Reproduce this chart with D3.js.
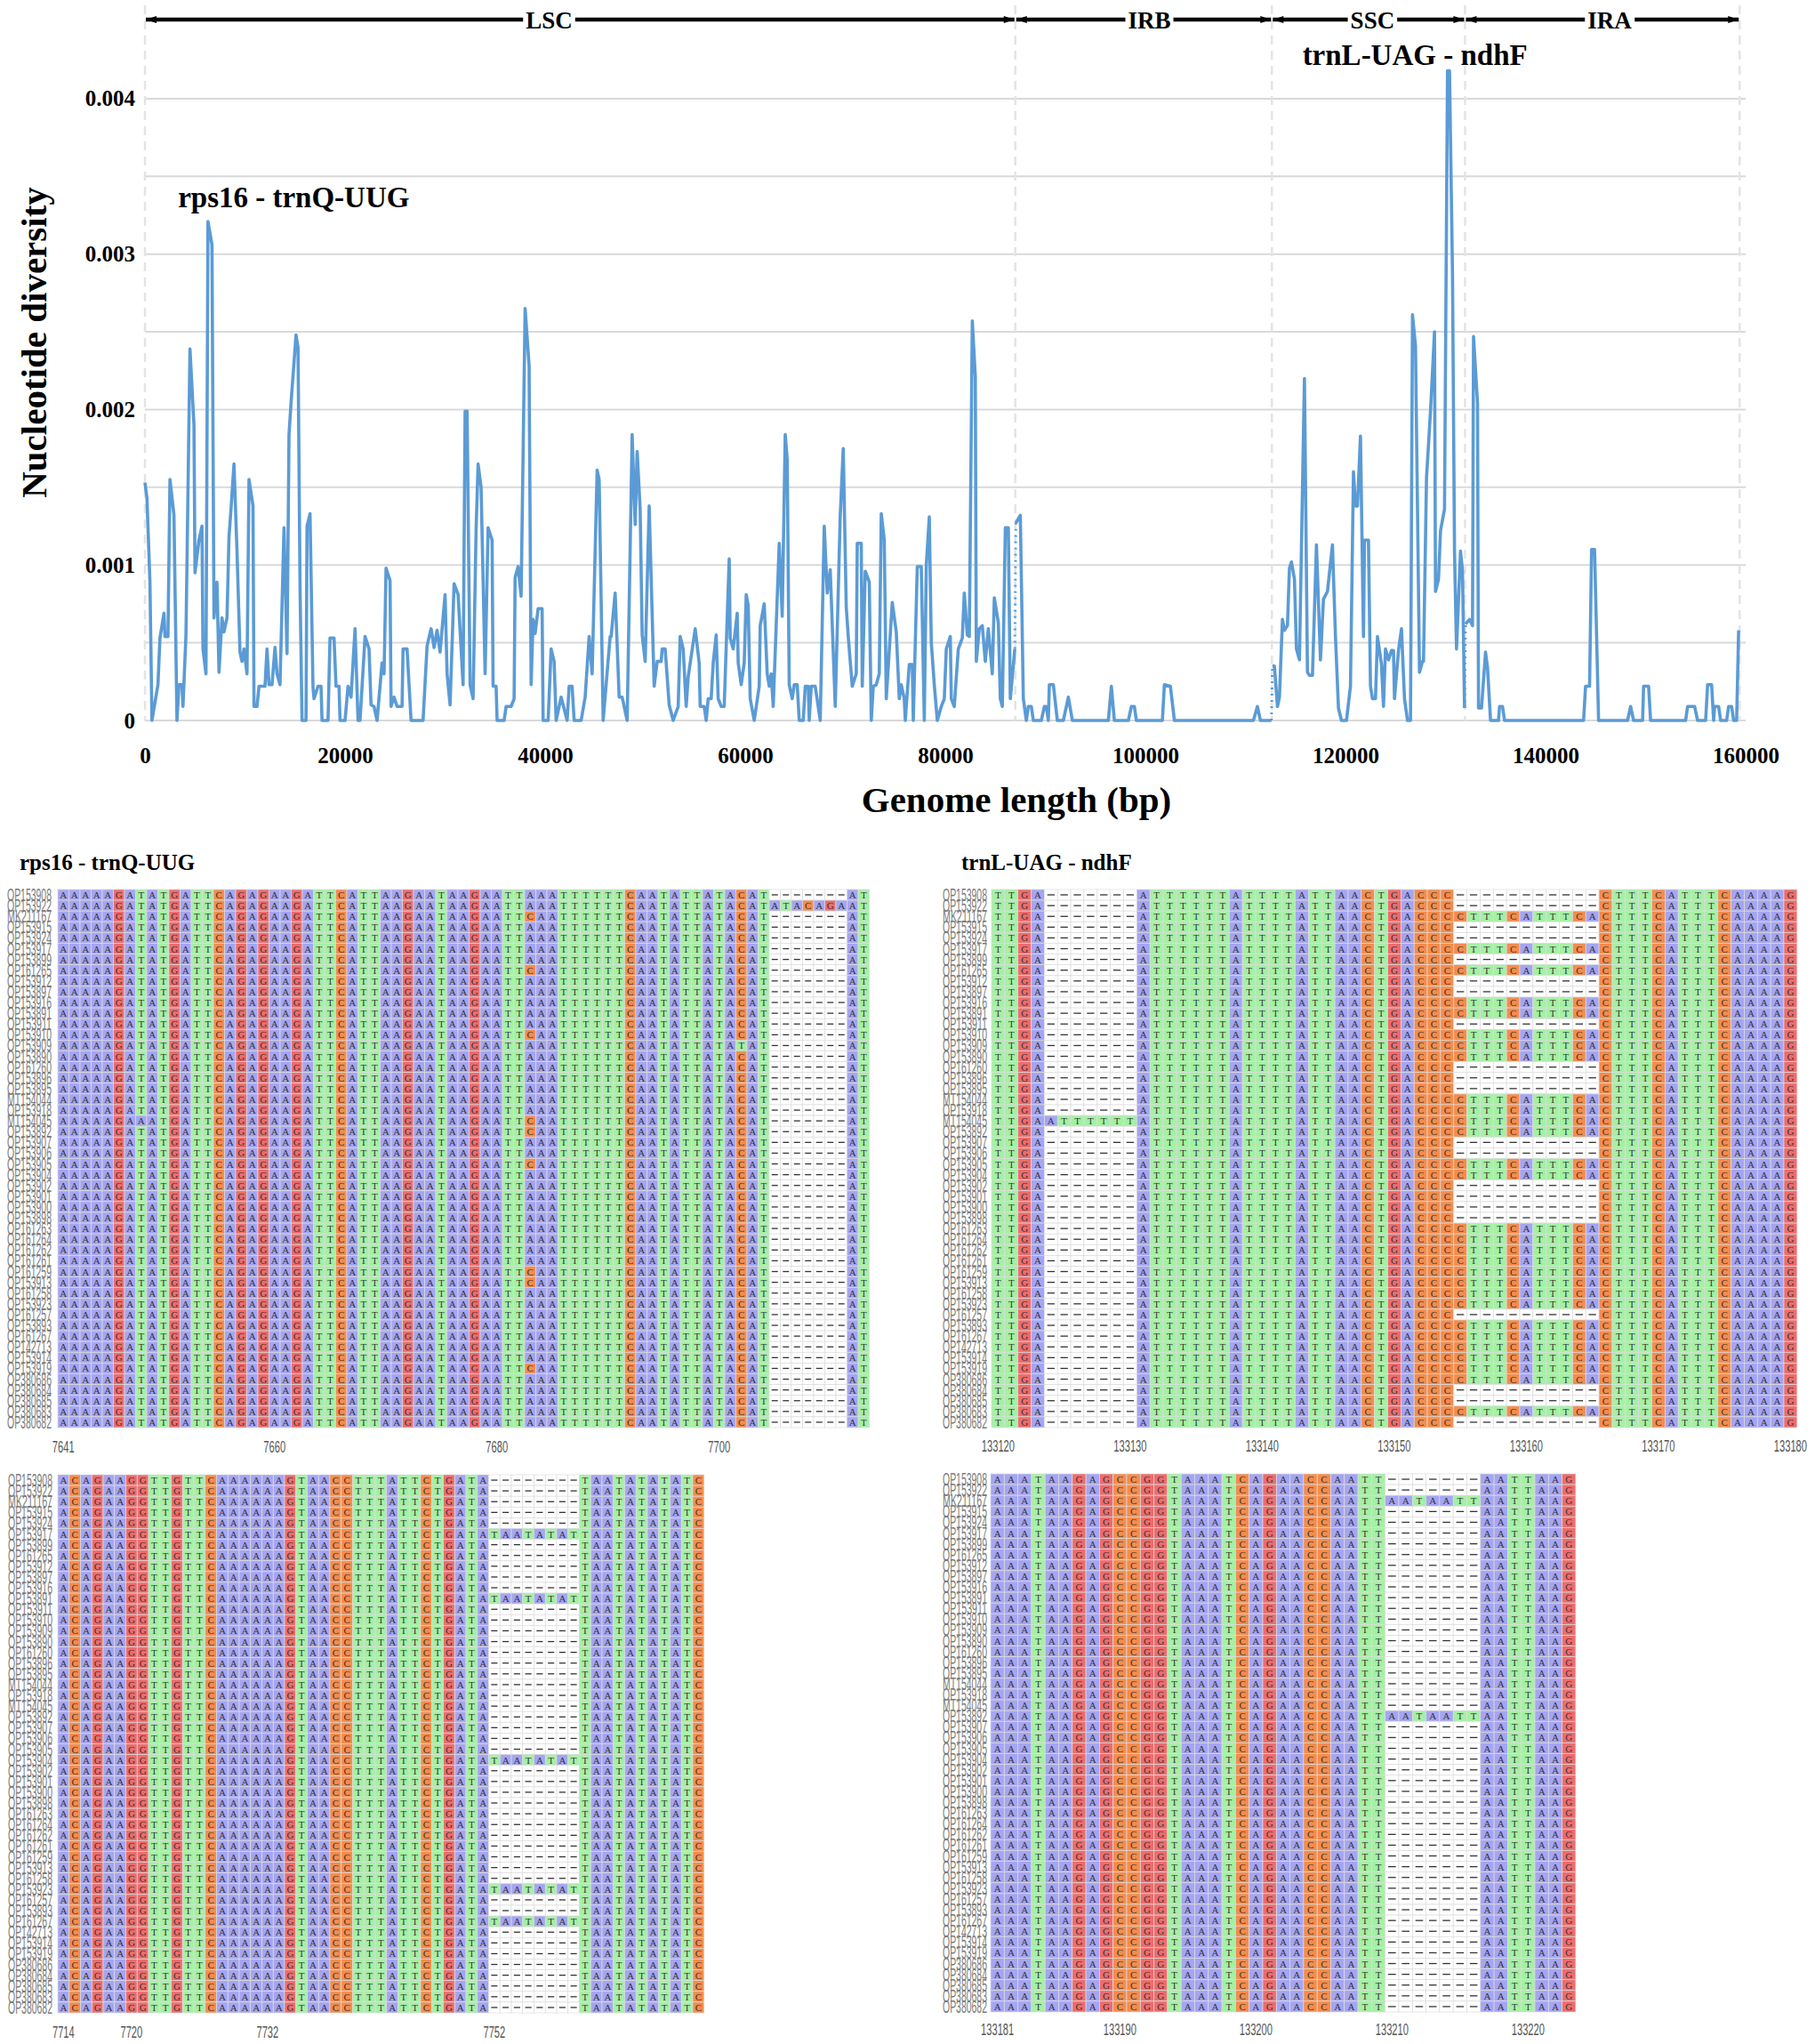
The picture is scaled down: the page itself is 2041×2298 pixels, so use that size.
<!DOCTYPE html>
<html>
<head>
<meta charset="utf-8">
<script src="https://cdn.jsdelivr.net/npm/d3@7/dist/d3.min.js"></script>
<style>
  body { margin: 0; background: #fff; }
  svg { display: block; }
</style>
</head>
<body>
<div id="chart"></div>
<script>
// nucleotide diversity (Pi) per window, [position bp, value], one array per region
var lscData = [[0,0.00153],[200,0.00143],[500,0.00089],[700,0],[1300,0.00023],[1500,0.00053],[1900,0.00069],[2000,0.00054],[2300,0.00054],[2500,0.00155],[2900,0.00132],[3200,0],[3400,0.00023],[3700,0.00023],[3800,0.00009],[4100,0.00055],[4500,0.00239],[4900,0.0019],[5000,0.00095],[5400,0.00116],[5700,0.00125],[5800,0.00046],[6100,0.0003],[6300,0.00321],[6700,0.00306],[6900,0.00066],[7200,0.00089],[7400,0.00031],[7700,0.00066],[7900,0.00057],[8200,0.00066],[8400,0.00118],[8600,0.00136],[8900,0.00165],[9200,0.00109],[9500,0.00044],[9700,0.00038],[9900,0.00046],[10200,0.0003],[10400,0.00155],[10800,0.00138],[10900,0.00009],[11200,0.00009],[11400,0.00022],[12000,0.00022],[12200,0.00046],[12400,0.00023],[12700,0.00023],[13000,0.00047],[13200,0.0003],[13500,0.00023],[13900,0.00124],[14200,0.00043],[14400,0.00184],[14600,0.00204],[15100,0.00248],[15300,0.0024],[15500,0.00087],[15700,0],[16100,0],[16200,0.00125],[16500,0.00133],[16800,0.00021],[16900,0.00014],[17300,0.00022],[17600,0.00022],[17700,0],[18300,0],[18500,0.00053],[18900,0.00053],[19100,0.00022],[19400,0.00022],[19500,0],[20000,0],[20300,0.00022],[20600,0.00015],[21000,0.00059],[21300,0],[21500,0],[22000,0.00054],[22400,0.00046],[22600,0.0001],[22900,0.00009],[23200,0],[23700,0.00037],[23900,0.0003],[24100,0.00098],[24500,0.0009],[24600,0.00009],[24900,0.00015],[25200,0.00009],[25700,0.00009],[25800,0.00046],[26200,0.00046],[26600,0],[27800,0],[28200,0.00048],[28600,0.00059],[28900,0.00047],[29200,0.00058],[29500,0.00044],[30000,0.00081],[30200,0.0003],[30500,0.0001],[30900,0.00088],[31300,0.00081],[31800,0.00023],[32000,0.00199],[32200,0.00199],[32500,0.00023],[32800,0.00014],[33100,0.00123],[33300,0.00165],[33600,0.0015],[34000,0.0003],[34300,0.00124],[34700,0.00116],[34800,0.00022],[35100,0.00022],[35200,0],[35900,0],[36100,0.00009],[36600,0.00009],[36900,0.00014],[37000,0.00092],[37300,0.00099],[37600,0.0008],[38000,0.00265],[38400,0.00228],[38600,0.00023],[38800,0.00065],[39000,0.00056],[39300,0.00072],[39700,0.00072],[39800,0],[40300,0],[40600,0.00046],[40900,0.00038],[41100,0],[41600,0.00015],[42200,0],[42400,0.00022],[42700,0.00022],[42900,0],[43600,0],[44000,0.00015],[44400,0.00054],[44700,0.0003],[45200,0.00161],[45400,0.00155],[45800,0],[46500,0.00054],[46600,0.00054],[47000,0.00082],[47400,0.00015],[47700,0.00015],[48200,0],[48700,0.00184],[49000,0.00126],[49200,0.00173],[49500,0.00136],[49700,0.00055],[50000,0.00038],[50400,0.00138],[50900,0.00022],[51200,0.00038],[51600,0.00038],[51700,0.00046],[52000,0.00046],[52400,0.0001],[52800,0],[53300,0.00009],[53500,0.00054],[53800,0.00046],[54100,0.00009],[54300,0.00028],[55000,0.00059],[55400,0.00037],[55500,0.00009],[55900,0.00009],[56100,0],[56300,0.00014],[56600,0.00014],[56800,0.00037],[57100,0.00055],[57300,0.00014],[57600,0.00009],[57900,0.00009],[58400,0.00104],[58500,0.00053],[58800,0.00046],[59200,0.00069],[59300,0.00037],[59600,0.00023],[59900,0.00037],[60100,0.00081],[60300,0.00074],[60500,0.00014],[60900,0],[61400,0.00022],[61500,0.00061],[61900,0.00075],[62200,0.0003],[62400,0.00022],[62600,0.0003],[62800,0.00009],[63400,0.00114],[63700,0.00067],[64000,0.00184],[64200,0.00168],[64400,0.00023],[64700,0.00014],[64900,0.00023],[65200,0.00023],[65400,0],[65800,0],[66000,0.00022],[66300,0.00022],[66400,0],[66600,0.00022],[67000,0.00022],[67500,0],[67900,0.00125],[68200,0.00082],[68500,0.00097],[69000,0.00009],[69500,0.00132],[69800,0.00175],[70100,0.00073],[70300,0.00054],[70700,0.00022],[71100,0.0003],[71200,0.00114],[71600,0.00114],[71700,0.00022],[72000,0.00096],[72400,0.00089],[72600,0],[72800,0.00022],[73100,0.00023],[73400,0.0003],[73600,0.00133],[73900,0.00116],[74100,0.00014],[74700,0.00076],[75100,0.00057],[75400,0.00014],[75600,0.00023],[75900,0.00014],[76000,0],[76400,0.00036],[76700,0.00036],[76800,0],[77200,0.00099],[77600,0.00099],[77900,0],[78100,0.001],[78400,0.00131],[78600,0.0005],[78900,0.00023],[79200,0],[79600,0.00009],[79900,0.00014],[80100,0.00046],[80500,0.00054],[80600,0.00014],[80900,0.00009],[81300,0.00046],[81700,0.00053],[81900,0.00082],[82200,0.00055],[82400,0.00054],[82700,0.00257],[83000,0.00221],[83100,0.00038],[83400,0.00059],[83700,0.00061],[84000,0.00038],[84300,0.00059],[84700,0.0003],[84900,0.00079],[85300,0.00063],[85500,0.00014],[85700,0.00009],[86000,0.00124],[86300,0.00124],[86500,0.00014],[86950,0.00046]];
var irbData = [[87050,0.00127],[87500,0.00132],[87800,0.00014],[88100,0],[88300,0.00009],[88600,0.00009],[88800,0],[89600,0],[89900,0.00009],[90100,0.00009],[90300,0],[90400,0.00023],[90800,0.00023],[91200,0],[91800,0],[92300,0.00015],[92700,0],[96300,0],[96600,0.00022],[96900,0],[98300,0],[98600,0.00009],[98900,0.00009],[99100,0],[101700,0],[101900,0.00023],[102500,0.00022],[102900,0],[110800,0],[111200,0.00009],[111500,0],[112600,0]];
var sscData = [[112700,0.00035],[112900,0.00035],[113200,0.00009],[113400,0.00015],[113700,0.00065],[113900,0.00058],[114200,0.00061],[114400,0.00098],[114600,0.00102],[114900,0.00091],[115100,0.00046],[115400,0.00039],[115900,0.0022],[116200,0.00031],[116400,0.00029],[116700,0.00029],[117100,0.00113],[117500,0.00039],[117800,0.00078],[118200,0.00083],[118700,0.00113],[119000,0.00054],[119300,0.00008],[119600,0],[120100,0],[120500,0.00022],[120800,0.0016],[121000,0.00138],[121200,0.00138],[121500,0.00183],[121800,0.00054],[121900,0.00116],[122300,0.00116],[122500,0.00022],[122700,0.00014],[123000,0.00014],[123200,0.00054],[123600,0.00036],[123800,0.00009],[124000,0.00046],[124300,0.00039],[124600,0.00045],[124800,0.00045],[124900,0.00014],[125300,0.00045],[125600,0.00059],[125900,0.00014],[126200,0],[126500,0],[126700,0.00261],[127000,0.00241],[127400,0.00031],[127700,0.00038],[127800,0.00038],[128100,0.00156],[128500,0.00199],[128900,0.0025],[129000,0.00083],[129300,0.00091],[129500,0.00122],[129900,0.00136],[130200,0.00418],[130400,0.00418],[130700,0.00287],[130900,0.00108],[131100,0.00046],[131500,0.00109],[131700,0.00096],[131900,0.00008]];
var iraData = [[132000,0.00062],[132400,0.00065],[132700,0.00061],[132800,0.00247],[133200,0.00204],[133300,0.00008],[133600,0.00008],[134000,0.00044],[134200,0.00034],[134500,0],[135300,0],[135400,0.00009],[135700,0.00009],[135900,0],[143800,0],[144000,0.00022],[144400,0.00022],[144600,0.0011],[144900,0.0011],[145300,0],[148200,0],[148500,0.00009],[148800,0],[149700,0],[149800,0.00022],[150300,0.00022],[150500,0],[154000,0],[154200,0.00009],[154900,0.00009],[155200,0],[156000,0],[156200,0.00023],[156600,0.00023],[156800,0],[156900,0.00009],[157300,0.00009],[157500,0],[158100,0],[158300,0.00009],[158600,0.00009],[158800,0],[159100,0],[159300,0.00058]];

var regionNames = ["LSC", "IRB", "SSC", "IRA"];
var regionBounds = [0, 87000, 112650, 131950, 159400];
var regionLabelPos = [40400, 100400, 122700, 146400];
var yTicks = [0, 0.001, 0.002, 0.003, 0.004];
var yGrid = [0, 0.0005, 0.001, 0.0015, 0.002, 0.0025, 0.003, 0.0035, 0.004];
var xTicks = [0, 20000, 40000, 60000, 80000, 100000, 120000, 140000, 160000];
var peakNames = ["rps16 - trnQ-UUG", "trnL-UAG - ndhF"];
var peakAnchor = [[3300, 0.0033], [115700, 0.00422]];

// alignment panels
var seqNames = ["OP153908","OP153922","MK211167","OP153915","OP153924","OP153917","OP153899","OP161265","OP153912","OP153897",
  "OP153916","OP153891","OP153911","OP153910","OP153909","OP153890","OP161260","OP153896","OP153895","MT154044",
  "OP153918","MT154045","OP153892","OP153907","OP153906","OP153905","OP153904","OP153902","OP153901","OP153900",
  "OP153898","OP161263","OP161264","OP161262","OP161261","OP161259","OP153913","OP161258","OP153923","OP161257",
  "OP153893","OP161267","OP142713","OP153914","OP153919","OP380686","OP380684","OP380685","OP380683","OP380682"];

var alnTitles = ["rps16 - trnQ-UUG", "trnL-UAG - ndhF", "", ""];
var alnConsensus = [
  "AAAAAGATATGATTCAGAGAAGATTCATTAAGAATAAGAATTAAATTTTTTCAATATTATACAT-------AT",
  "TTGA-------ATTTTTTATTTTATTAACTGACCC-----------CTTTCATTTCAAAAG",
  "ACAGAAGGTTGTTCAAAAAAGTAACCTTTATTCTGATA--------TAATATATATC",
  "AAATAAGAGCCGGTAAATCAGAACCAATT-------AATTAAG"
];
var alnStart = [7641, 133120, 7714, 133181];
var alnTicks = [
  [7641, 7660, 7680, 7700],
  [133120, 133130, 133140, 133150, 133160, 133170, 133180],
  [7714, 7720, 7732, 7752],
  [133181, 133190, 133200, 133210, 133220]
];
// rows are 1-based positions in seqNames, col is 0-based alignment column
var alnVariants = [
  [
    {rows: [2], col: 64, seq: "ATACAGA"},
    {rows: [3, 8, 14, 22, 23, 26, 36, 37, 45], col: 42, seq: "C"},
    {rows: [15], col: 61, seq: "T"},
    {rows: [22], col: 7, seq: "A"}
  ],
  [
    {rows: [3, 6, 8, 11, 12, 14, 15, 16, 20, 21, 22, 23, 26, 27, 32, 33, 34, 35, 36, 37, 38, 39, 41, 42, 43, 44, 45, 46, 49], col: 35, seq: "CTTTCATTTCA"},
    {rows: [22], col: 4, seq: "ATTTTTT"}
  ],
  [
    {rows: [6, 12, 27, 39, 42], col: 38, seq: "TAATATAT"}
  ],
  [
    {rows: [3, 23], col: 29, seq: "AATAATT"}
  ]
];

var baseFill = {A: "#a5a5f3", T: "#a5f0a5", G: "#ee6c6c", C: "#f58c4c", "-": "#ffffff"};

// ---------------------------------------------------------------
var W = 2041, H = 2298;
var serif = "'Liberation Serif', 'Times New Roman', serif";
var sans = "'Liberation Sans', Arial, sans-serif";

var svg = d3.select("#chart").append("svg")
  .attr("width", W)
  .attr("height", H)
  .style("font-family", serif);

var x = d3.scaleLinear().domain([0, 160000]).range([163, 1963]);
var y = d3.scaleLinear().domain([0, 0.0045]).range([810, 23.6]);

// horizontal grid
svg.append("g").selectAll("line").data(yGrid).enter().append("line")
  .attr("x1", x(0)).attr("x2", x(160000))
  .attr("y1", function(d) { return y(d); })
  .attr("y2", function(d) { return y(d); })
  .attr("stroke", "#d9d9d9")
  .attr("stroke-width", 2);

// region boundaries
svg.append("g").selectAll("line").data(regionBounds).enter().append("line")
  .attr("x1", function(d) { return x(d); })
  .attr("x2", function(d) { return x(d); })
  .attr("y1", 6).attr("y2", y(0))
  .attr("stroke", "#e4e4e4")
  .attr("stroke-width", 2.5)
  .attr("stroke-dasharray", "10,7");

// the diversity line, one path per region
var segments = [lscData, irbData, sscData, iraData];
var line = d3.line()
  .x(function(d) { return x(d[0]); })
  .y(function(d) { return y(d[1]); });

svg.append("g").selectAll("path").data(segments).enter().append("path")
  .attr("d", line)
  .attr("fill", "none")
  .attr("stroke", "#5b9bd5")
  .attr("stroke-width", 3.6)
  .attr("stroke-linejoin", "round");

// dotted joins between regions
var joins = [];
for (var i = 0; i < segments.length - 1; i++) {
  joins.push([segments[i][segments[i].length - 1], segments[i + 1][0]]);
}
svg.append("g").selectAll("path").data(joins).enter().append("path")
  .attr("d", line)
  .attr("fill", "none")
  .attr("stroke", "#5b9bd5")
  .attr("stroke-width", 3)
  .attr("stroke-dasharray", "2,5");

// axes
var yAxis = d3.axisLeft(y)
  .tickValues(yTicks)
  .tickSize(0)
  .tickPadding(11)
  .tickFormat(function(d) { return d === 0 ? "0" : d3.format(".3f")(d); });

var yg = svg.append("g").attr("transform", "translate(" + x(0) + ",0)").call(yAxis);
yg.select(".domain").remove();
yg.selectAll("text")
  .style("font-family", serif)
  .style("font-size", "25px")
  .style("font-weight", "bold")
  .attr("fill", "#000");

var xAxis = d3.axisBottom(x)
  .tickValues(xTicks)
  .tickSize(0)
  .tickPadding(30)
  .tickFormat(d3.format("d"));

var xg = svg.append("g").attr("transform", "translate(0," + y(0) + ")").call(xAxis);
xg.select(".domain").remove();
xg.selectAll("text")
  .style("font-family", serif)
  .style("font-size", "25px")
  .style("font-weight", "bold")
  .attr("fill", "#000");

svg.append("text")
  .attr("transform", "translate(52,385) rotate(-90)")
  .attr("text-anchor", "middle")
  .style("font-size", "41px")
  .style("font-weight", "bold")
  .text("Nucleotide diversity");

svg.append("text")
  .attr("x", 1143).attr("y", 913)
  .attr("text-anchor", "middle")
  .style("font-size", "41px")
  .style("font-weight", "bold")
  .text("Genome length (bp)");

// region arrows across the top
var defs = svg.append("defs");
defs.append("marker")
  .attr("id", "arrowhead")
  .attr("viewBox", "0 -5 12 10")
  .attr("refX", 12).attr("refY", 0)
  .attr("markerUnits", "userSpaceOnUse")
  .attr("markerWidth", 14).attr("markerHeight", 10)
  .attr("orient", "auto-start-reverse")
  .append("path")
  .attr("d", "M0,-4L12,0L0,4Z")
  .attr("fill", "#000");

var arrowY = 22;
var regions = regionNames.map(function(n, i) {
  return {name: n, start: regionBounds[i], end: regionBounds[i + 1], label: regionLabelPos[i]};
});

var arrowG = svg.append("g");
arrowG.selectAll("line").data(regions).enter().append("line")
  .attr("x1", function(d) { return x(d.start) + 1; })
  .attr("x2", function(d) { return x(d.end) - 1; })
  .attr("y1", arrowY).attr("y2", arrowY)
  .attr("stroke", "#000")
  .attr("stroke-width", 4.5)
  .attr("marker-start", "url(#arrowhead)")
  .attr("marker-end", "url(#arrowhead)");

regions.forEach(function(d) {
  var t = arrowG.append("text")
    .attr("x", x(d.label)).attr("y", arrowY)
    .attr("dy", "0.36em")
    .attr("text-anchor", "middle")
    .style("font-size", "27px")
    .style("font-weight", "bold")
    .text(d.name);
  var bb = t.node().getBBox();
  arrowG.insert("rect", function() { return t.node(); })
    .attr("x", bb.x - 3).attr("y", arrowY - 8)
    .attr("width", bb.width + 6).attr("height", 16)
    .attr("fill", "#fff");
});

// peak labels
svg.append("g").selectAll("text").data(peakNames).enter().append("text")
  .attr("x", function(d, i) { return x(peakAnchor[i][0]); })
  .attr("y", function(d, i) { return y(peakAnchor[i][1]); })
  .style("font-size", "33px")
  .style("font-weight", "bold")
  .text(function(d) { return d; });

// ---------------------------------------------------------------
// alignment panels
var panelLayout = [
  {left: 65,   top: 1000, cw: 12.5,  nameRight: 58,   tickY: 1633, titleX: 22,   titleY: 978},
  {left: 1115, top: 1000, cw: 14.85, nameRight: 1110, tickY: 1632, titleX: 1081, titleY: 978},
  {left: 65,   top: 1658, cw: 12.75, nameRight: 59,   tickY: 2291},
  {left: 1114, top: 1657, cw: 15.3,  nameRight: 1110, tickY: 2288}
];
var rowH = 12.1;

function drawPanel(p) {
  var L = panelLayout[p];
  var cons = alnConsensus[p];
  var nCol = cons.length;

  var xb = d3.scaleBand().domain(d3.range(nCol)).range([L.left, L.left + L.cw * nCol]);
  var yb = d3.scaleBand().domain(seqNames).range([L.top, L.top + rowH * seqNames.length]);

  var rows = seqNames.map(function() { return cons.split(""); });
  alnVariants[p].forEach(function(v) {
    v.rows.forEach(function(r) {
      for (var k = 0; k < v.seq.length; k++) rows[r - 1][v.col + k] = v.seq[k];
    });
  });

  var cells = [];
  rows.forEach(function(s, r) {
    s.forEach(function(ch, c) { cells.push({r: r, c: c, ch: ch}); });
  });

  var g = svg.append("g");

  g.selectAll("rect").data(cells).enter().append("rect")
    .attr("x", function(d) { return xb(d.c); })
    .attr("y", function(d) { return yb(seqNames[d.r]); })
    .attr("width", xb.bandwidth())
    .attr("height", yb.bandwidth())
    .attr("fill", function(d) { return baseFill[d.ch]; })
    .attr("stroke", "#dcdcdc")
    .attr("stroke-width", 0.7);

  var bases = cells.filter(function(d) { return d.ch !== "-"; });
  var gaps = cells.filter(function(d) { return d.ch === "-"; });

  g.selectAll("text.base").data(bases).enter().append("text")
    .attr("class", "base")
    .attr("x", function(d) { return xb(d.c) + xb.bandwidth() / 2; })
    .attr("y", function(d) { return yb(seqNames[d.r]) + yb.bandwidth() / 2 + 4; })
    .attr("text-anchor", "middle")
    .style("font-size", "11px")
    .attr("fill", "#333")
    .text(function(d) { return d.ch; });

  g.selectAll("line.gap").data(gaps).enter().append("line")
    .attr("class", "gap")
    .attr("x1", function(d) { return xb(d.c) + xb.bandwidth() * 0.22; })
    .attr("x2", function(d) { return xb(d.c) + xb.bandwidth() * 0.78; })
    .attr("y1", function(d) { return yb(seqNames[d.r]) + yb.bandwidth() / 2; })
    .attr("y2", function(d) { return yb(seqNames[d.r]) + yb.bandwidth() / 2; })
    .attr("stroke", "#333")
    .attr("stroke-width", 1.3);

  g.selectAll("text.name").data(seqNames).enter().append("text")
    .attr("class", "name")
    .attr("x", L.nameRight)
    .attr("y", function(d) { return yb(d) + yb.bandwidth() / 2 + 7; })
    .attr("text-anchor", "end")
    .attr("textLength", 50)
    .attr("lengthAdjust", "spacingAndGlyphs")
    .style("font-family", sans)
    .style("font-size", "20px")
    .attr("fill", "#7a7a7a")
    .text(function(d) { return d; });

  g.selectAll("text.tick").data(alnTicks[p]).enter().append("text")
    .attr("class", "tick")
    .attr("x", function(d) { return xb(d - alnStart[p]) + xb.bandwidth() / 2; })
    .attr("y", L.tickY)
    .attr("text-anchor", "middle")
    .attr("textLength", function(d) { return String(d).length * 6.2; })
    .attr("lengthAdjust", "spacingAndGlyphs")
    .style("font-family", sans)
    .style("font-size", "18px")
    .attr("fill", "#555")
    .text(function(d) { return d; });

  if (alnTitles[p]) {
    g.append("text")
      .attr("x", L.titleX).attr("y", L.titleY)
      .style("font-size", "25px")
      .style("font-weight", "bold")
      .text(alnTitles[p]);
  }
}

for (var p = 0; p < alnConsensus.length; p++) drawPanel(p);
</script>
</body>
</html>
